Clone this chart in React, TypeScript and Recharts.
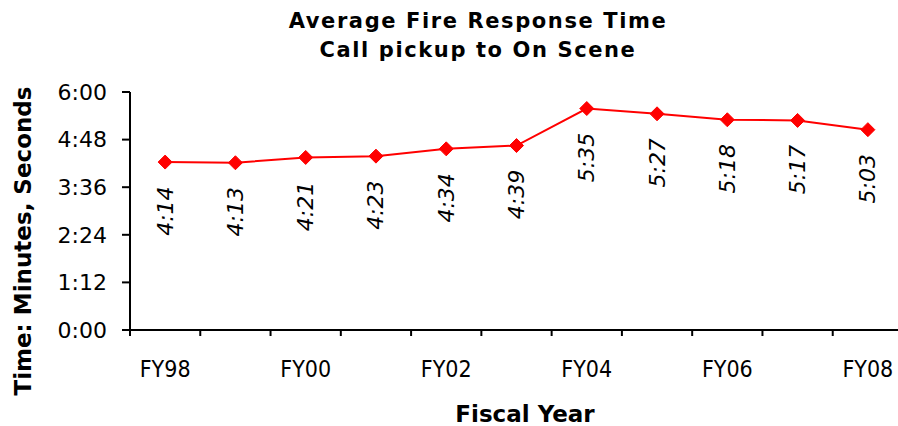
import { LineChart, Line, XAxis, YAxis, LabelList } from "recharts";

// fiscal years and average response time in seconds (call pickup to on scene)
const years = ["FY98", "FY99", "FY00", "FY01", "FY02", "FY03", "FY04", "FY05", "FY06", "FY07", "FY08"];
const seconds = [254, 253, 261, 263, 274, 279, 335, 327, 318, 317, 303];
const yTicks = [0, 72, 144, 216, 288, 360];
const xTicks = [-0.5, 0, 0.5, 1, 1.5, 2, 2.5, 3, 3.5, 4, 4.5, 5, 5.5, 6, 6.5, 7, 7.5, 8, 8.5, 9, 9.5, 10, 10.5];

const data = years.map((year, i) => ({ idx: i, year, secs: seconds[i] }));

const RED = "#ff0000";
const FONT = "'DejaVu Sans', Verdana, sans-serif";

function mmss(v: number) {
  const m = Math.floor(v / 60);
  const s = Math.round(v - m * 60);
  return `${m}:${s < 10 ? "0" : ""}${s}`;
}

function XTick(props: any) {
  const { x, y, payload } = props;
  const v = payload.value as number;
  if (Number.isInteger(v)) {
    if (v % 2 !== 0) return <g />;
    return (
      <text x={x} y={y + 47} textAnchor="middle" fontFamily="'DejaVu Sans Condensed', 'DejaVu Sans', sans-serif" fontSize={23} fill="#000">
        {years[v]}
      </text>
    );
  }
  return <line x1={x} x2={x} y1={y} y2={y + 6} stroke="#000" strokeWidth={2} />;
}

function Diamond(props: any) {
  const { cx, cy, index } = props;
  if (cx == null || cy == null) return <g key={`d-${index}`} />;
  const r = 7;
  return (
    <polygon
      key={`d-${index}`}
      points={`${cx},${cy - r} ${cx + r},${cy} ${cx},${cy + r} ${cx - r},${cy}`}
      fill={RED}
      stroke={RED}
    />
  );
}

function ValueLabel(props: any) {
  const { x, y, value } = props;
  const cy = y + 49;
  return (
    <text
      x={x}
      y={cy}
      transform={`rotate(-90, ${x}, ${cy})`}
      textAnchor="middle"
      dominantBaseline="central"
      fontFamily={FONT}
      fontStyle="italic"
      fontSize={22}
      fill="#000"
    >
      {mmss(value)}
    </text>
  );
}

export default function App() {
  return (
    <div style={{ position: "absolute", left: 0, top: 0, width: 898, height: 426, background: "#fff" }}>
      <LineChart width={898} height={426} data={data} margin={{ top: 92, right: -5, bottom: 0, left: 0 }}>
        <XAxis
          dataKey="idx"
          type="number"
          domain={[-0.5, 10.5]}
          ticks={xTicks}
          interval={0}
          tick={<XTick />}
          tickLine={false}
          tickSize={0}
          tickMargin={0}
          axisLine={{ stroke: "#000", strokeWidth: 2 }}
          height={96}
          label={{
            content: () => (
              <text x={525} y={422} textAnchor="middle" fontFamily={FONT} fontWeight="bold" fontSize={23} fill="#000">
                Fiscal Year
              </text>
            ),
          }}
        />
        <YAxis
          domain={[0, 360]}
          ticks={yTicks}
          interval={0}
          tickFormatter={mmss}
          width={130}
          tickSize={8}
          tickMargin={15}
          tick={{ fontFamily: FONT, fontSize: 22, fill: "#000" }}
          tickLine={{ stroke: "#000", strokeWidth: 2 }}
          axisLine={{ stroke: "#000", strokeWidth: 2 }}
          label={{
            content: () => (
              <text
                x={23}
                y={241}
                transform="rotate(-90, 23, 241)"
                textAnchor="middle"
                dominantBaseline="central"
                fontFamily={FONT}
                fontWeight="bold"
                fontSize={23}
                fill="#000"
              >
                Time: Minutes, Seconds
              </text>
            ),
          }}
        />
        <Line
          dataKey="secs"
          stroke={RED}
          strokeWidth={2}
          dot={Diamond}
          activeDot={false}
          isAnimationActive={false}
        >
          <LabelList dataKey="secs" content={ValueLabel} />
        </Line>
      </LineChart>
      <svg width={898} height={80} style={{ position: "absolute", left: 0, top: 0, pointerEvents: "none" }}>
        <text x={478} y={28} textAnchor="middle" fontFamily={FONT} fontWeight="bold" fontSize={21} letterSpacing={1.6} fill="#000">
          Average Fire Response Time
        </text>
        <text x={478} y={56.5} textAnchor="middle" fontFamily={FONT} fontWeight="bold" fontSize={21} letterSpacing={1.6} fill="#000">
          Call pickup to On Scene
        </text>
      </svg>
    </div>
  );
}
